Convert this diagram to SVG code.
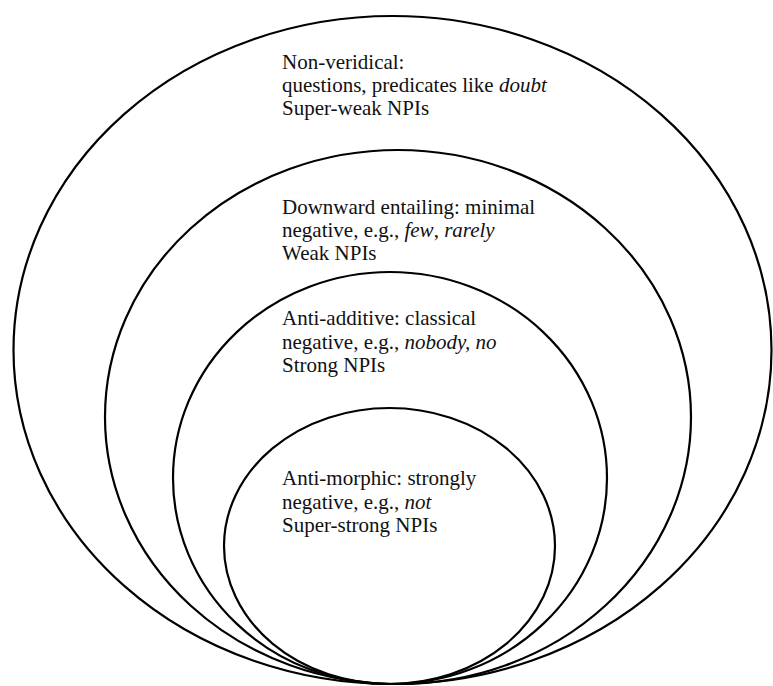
<svg xmlns="http://www.w3.org/2000/svg" width="773" height="686" viewBox="0 0 773 686">
  <style>
    .ring { fill: none; stroke: #000; stroke-width: 2.2; }
    .label { font-family: 'Liberation Serif', 'DejaVu Serif', serif; font-size: 21px; fill: #111; }
    .em { font-style: italic; }
  </style>
  <rect width="773" height="686" fill="#fff"/>

  <!-- Non-veridical (outermost) -->
  <g id="non-veridical" font-family="Liberation Serif, serif">
    <ellipse class="ring" cx="392.5" cy="350" rx="379" ry="334"/>
    <text class="label" x="282" y="68.5">Non-veridical:</text>
    <text class="label" x="282" y="91.8">questions, predicates like <tspan class="em">doubt</tspan></text>
    <text class="label" x="282" y="115">Super-weak NPIs</text>
  </g>

  <!-- Downward entailing -->
  <g id="downward-entailing" font-family="Liberation Serif, serif">
    <ellipse class="ring" cx="398" cy="417" rx="293" ry="267"/>
    <text class="label" x="282" y="214">Downward entailing: minimal</text>
    <text class="label" x="282" y="237">negative, e.g., <tspan class="em">few</tspan>, <tspan class="em">rarely</tspan></text>
    <text class="label" x="282" y="260">Weak NPIs</text>
  </g>

  <!-- Anti-additive -->
  <g id="anti-additive" font-family="Liberation Serif, serif">
    <ellipse class="ring" cx="390" cy="478" rx="217" ry="206"/>
    <text class="label" x="282" y="325">Anti-additive: classical</text>
    <text class="label" x="282" y="348.5">negative, e.g., <tspan class="em">nobody, no</tspan></text>
    <text class="label" x="282" y="372">Strong NPIs</text>
  </g>

  <!-- Anti-morphic (innermost) -->
  <g id="anti-morphic" font-family="Liberation Serif, serif">
    <ellipse class="ring" cx="389.5" cy="546" rx="165.5" ry="138"/>
    <text class="label" x="282" y="485">Anti-morphic: strongly</text>
    <text class="label" x="282" y="508.5">negative, e.g., <tspan class="em">not</tspan></text>
    <text class="label" x="282" y="532">Super-strong NPIs</text>
  </g>
</svg>
